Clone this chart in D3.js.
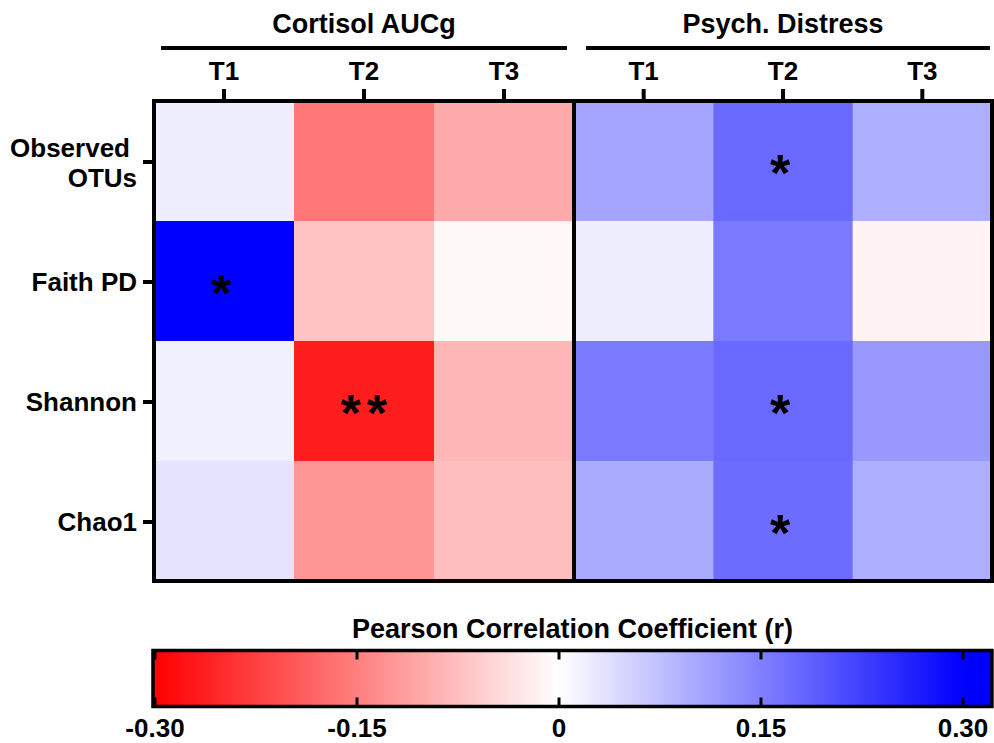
<!DOCTYPE html>
<html>
<head>
<meta charset="utf-8">
<script src="https://d3js.org/d3.v7.min.js"></script>
<style>
  body { margin: 0; background: #fff; }
  text { font-family: "Liberation Sans", Arial, sans-serif; font-weight: bold; fill: #000; }
</style>
</head>
<body>
<script>
// data
var groups = ["Cortisol AUCg", "Psych. Distress"];
var times = ["T1", "T2", "T3"];
var rowLabels = [["Observed", "OTUs"], ["Faith PD"], ["Shannon"], ["Chao1"]];

// Pearson r per row (metric) and column (time point)
var cortisolR = [
  [0.020, -0.160, -0.100],
  [0.310, -0.070, -0.008],
  [0.018, -0.265, -0.086],
  [0.032, -0.124, -0.076]
];
var distressR = [
  [0.106, 0.176, 0.094],
  [0.020, 0.156, -0.014],
  [0.156, 0.176, 0.121],
  [0.100, 0.173, 0.094]
];
var cortisolSig = [["", "", ""], ["*", "", ""], ["", "**", ""], ["", "", ""]];
var distressSig = [["", "*", ""], ["", "", ""], ["", "*", ""], ["", "*", ""]];

var cbTicks = [-0.30, -0.15, 0, 0.15, 0.30];
var cbTickLabels = ["-0.30", "-0.15", "0", "0.15", "0.30"];
var cbExtent = [-0.3015, 0.3215];

var width = 994, height = 743;
var plotTop = 101, plotBottom = 581;
var panels = [[154, 574], [574, 992]];
var values = [cortisolR, distressR];
var sigs = [cortisolSig, distressSig];

var svg = d3.select("body").append("svg")
    .attr("width", width)
    .attr("height", height);

var color = d3.scaleLinear()
    .domain([-0.3, 0, 0.3])
    .range(["#ff0000", "#ffffff", "#0000ff"])
    .clamp(true);

var y = d3.scaleBand()
    .domain(d3.range(rowLabels.length))
    .range([plotTop, plotBottom]);

groups.forEach(function (g, gi) {
  var x = d3.scaleBand()
      .domain(times)
      .range(panels[gi]);

  var cells = [];
  values[gi].forEach(function (row, ri) {
    row.forEach(function (v, ci) {
      cells.push({ r: ri, c: times[ci], v: v, s: sigs[gi][ri][ci] });
    });
  });

  var p = svg.append("g");

  p.selectAll("rect.cell")
    .data(cells)
    .enter().append("rect")
      .attr("class", "cell")
      .attr("x", function (d) { return x(d.c); })
      .attr("y", function (d) { return y(d.r); })
      .attr("width", x.bandwidth() + 0.5)
      .attr("height", y.bandwidth() + 0.5)
      .style("fill", function (d) { return color(d.v); });

  // significance stars
  p.selectAll("text.sig")
    .data(cells.filter(function (d) { return d.s; }))
    .enter().append("text")
      .attr("class", "sig")
      .attr("x", function (d) { return x(d.c) + x.bandwidth() / 2 + (d.s.length > 1 ? 3 : 0); })
      .attr("y", function (d) { return y(d.r) + y.bandwidth() / 2 + 30; })
      .attr("text-anchor", "middle")
      .style("font-size", "52px")
      .style("letter-spacing", "6px")
      .text(function (d) { return d.s; });

  // panel frame
  p.append("rect")
    .attr("x", panels[gi][0])
    .attr("y", plotTop)
    .attr("width", panels[gi][1] - panels[gi][0])
    .attr("height", plotBottom - plotTop)
    .style("fill", "none")
    .style("stroke", "#000")
    .style("stroke-width", 4);

  // top ticks and time labels
  p.selectAll("line.xt")
    .data(times)
    .enter().append("line")
      .attr("x1", function (d) { return x(d) + x.bandwidth() / 2; })
      .attr("x2", function (d) { return x(d) + x.bandwidth() / 2; })
      .attr("y1", 89)
      .attr("y2", plotTop)
      .style("stroke", "#000")
      .style("stroke-width", 4);

  p.selectAll("text.xl")
    .data(times)
    .enter().append("text")
      .attr("x", function (d) { return x(d) + x.bandwidth() / 2; })
      .attr("y", 80)
      .attr("text-anchor", "middle")
      .style("font-size", "26px")
      .text(function (d) { return d; });

  // group header bar + title
  var barInset = gi === 0 ? [7, 7] : [12, 2];
  p.append("line")
    .attr("x1", panels[gi][0] + barInset[0])
    .attr("x2", panels[gi][1] - barInset[1])
    .attr("y1", 48)
    .attr("y2", 48)
    .style("stroke", "#000")
    .style("stroke-width", 4);

  p.append("text")
    .attr("x", (panels[gi][0] + panels[gi][1]) / 2)
    .attr("y", 33)
    .attr("text-anchor", "middle")
    .style("font-size", "27px")
    .text(g);
});

// row ticks and labels
svg.selectAll("line.yt")
  .data(rowLabels)
  .enter().append("line")
    .attr("x1", 143)
    .attr("x2", panels[0][0])
    .attr("y1", function (d, i) { return y(i) + y.bandwidth() / 2 + 1; })
    .attr("y2", function (d, i) { return y(i) + y.bandwidth() / 2 + 1; })
    .style("stroke", "#000")
    .style("stroke-width", 4);

var rl = svg.selectAll("text.yl")
  .data(rowLabels)
  .enter().append("text")
    .attr("text-anchor", "end")
    .style("font-size", "26px");

rl.selectAll("tspan")
  .data(function (d, i) {
    var yc = y(i) + y.bandwidth() / 2;
    return d.map(function (line, li) {
      var y0 = d.length === 1 ? yc + 10 : yc - 4 + li * 30;
      // first line of a wrapped label sits a little left in the original
      var x0 = d.length > 1 && li === 0 ? 130 : 137;
      return { t: line, y: y0, x: x0 };
    });
  })
  .enter().append("tspan")
    .attr("x", function (d) { return d.x; })
    .attr("y", function (d) { return d.y; })
    .text(function (d) { return d.t; });

// colour bar
var cx = d3.scaleLinear().domain([-0.30, 0.30]).range([155, 963]);
var cbTop = 650.5, cbBottom = 706.5;

var grad = svg.append("defs").append("linearGradient")
    .attr("id", "cb")
    .attr("x1", "0%").attr("x2", "100%")
    .attr("y1", "0%").attr("y2", "0%");

var stops = d3.range(0, 1.0001, 0.02);
grad.selectAll("stop")
  .data(stops)
  .enter().append("stop")
    .attr("offset", function (t) { return (t * 100) + "%"; })
    .attr("stop-color", function (t) {
      return color(cbExtent[0] + t * (cbExtent[1] - cbExtent[0]));
    });

svg.append("rect")
  .attr("x", cx(cbExtent[0]))
  .attr("y", cbTop)
  .attr("width", cx(cbExtent[1]) - cx(cbExtent[0]))
  .attr("height", cbBottom - cbTop)
  .style("fill", "url(#cb)")
  .style("stroke", "#000")
  .style("stroke-width", 3.5);

svg.selectAll("line.cbt")
  .data(cbTicks)
  .enter().append("line")
    .attr("x1", function (d) { return cx(d); })
    .attr("x2", function (d) { return cx(d); })
    .attr("y1", cbTop)
    .attr("y2", cbTop + 9)
    .style("stroke", "#000")
    .style("stroke-width", 3);

svg.selectAll("line.cbb")
  .data(cbTicks)
  .enter().append("line")
    .attr("x1", function (d) { return cx(d); })
    .attr("x2", function (d) { return cx(d); })
    .attr("y1", cbBottom - 9)
    .attr("y2", cbBottom)
    .style("stroke", "#000")
    .style("stroke-width", 3);

svg.selectAll("text.cbl")
  .data(cbTicks)
  .enter().append("text")
    .attr("x", function (d) { return cx(d); })
    .attr("y", 737)
    .attr("text-anchor", "middle")
    .style("font-size", "26px")
    .text(function (d, i) { return cbTickLabels[i]; });

svg.append("text")
  .attr("x", (cx(cbExtent[0]) + cx(cbExtent[1])) / 2)
  .attr("y", 638)
  .attr("text-anchor", "middle")
  .style("font-size", "27px")
  .text("Pearson Correlation Coefficient (r)");
</script>
</body>
</html>
